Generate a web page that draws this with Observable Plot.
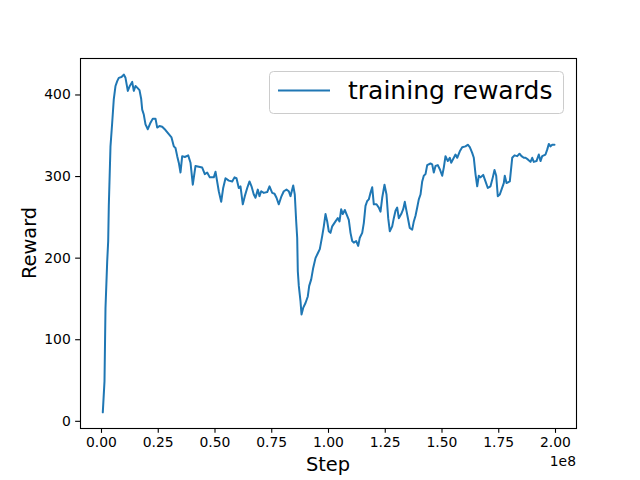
<!DOCTYPE html>
<html><head><meta charset="utf-8">
<script src="https://cdn.jsdelivr.net/npm/d3@7"></script>
<script src="https://cdn.jsdelivr.net/npm/@observablehq/plot@0.6"></script>
<style>body{margin:0;background:#fff} svg{font-family:"DejaVu Sans";}</style>
</head><body><div id="chart"></div>
<script>
// step in millions
const stepsM = [0.57,1.32,1.76,2.51,2.95,3.22,3.96,4.71,5.42,6.17,6.92,7.62,8.81,9.82,10.57,11.59,12.47,13.52,14.23,14.98,15.73,16.74,17.49,17.93,18.63,19.38,20.40,21.59,22.60,23.79,24.54,25.55,26.74,28.19,29.65,30.84,31.85,32.60,33.35,34.05,34.80,35.55,36.70,38.19,39.21,40.22,41.41,42.86,44.36,45.51,46.56,47.71,49.47,50.22,51.67,52.73,53.61,54.63,56.08,57.58,58.59,59.47,60.48,61.23,62.25,63.13,64.19,65.20,66.08,67.09,67.84,68.85,69.60,70.35,71.50,73.00,74.01,75.20,76.21,77.09,78.11,79.16,80.31,81.50,82.51,83.26,84.45,85.15,85.77,86.21,86.48,86.92,87.67,88.11,88.85,89.87,90.88,91.50,92.38,93.26,94.27,95.29,96.17,97.22,97.93,98.68,99.43,100.13,100.88,101.63,103.08,104.10,104.85,105.59,106.30,107.18,107.93,108.94,109.69,110.44,111.15,112.20,113.08,113.79,114.85,115.55,116.30,117.05,117.75,118.50,119.25,119.96,121.15,122.16,122.91,123.66,124.67,125.55,126.30,127.00,128.06,128.77,129.52,130.26,130.97,132.03,132.91,133.61,134.36,135.11,135.81,136.87,137.58,138.33,139.08,139.78,140.53,141.28,141.98,142.73,143.48,144.93,145.68,146.39,147.14,148.15,149.03,150.09,150.79,151.54,152.56,153.44,154.05,155.20,155.95,156.70,157.84,158.90,160.35,161.37,162.25,163.30,164.01,164.76,165.51,166.21,166.96,168.15,169.16,170.18,171.37,172.38,173.13,173.88,174.58,175.46,176.21,177.22,177.66,178.41,179.87,180.93,181.94,183.13,184.14,185.02,186.04,186.78,187.80,188.99,189.74,190.44,191.63,192.64,193.39,194.14,195.59,196.34,197.05,197.80,198.55,199.56];
const rewards = [11,49,139,196,221,264,337,366,395,411,417,421,422,425,421,405,411,416,405,411,409,406,395,382,376,364,358,366,371,371,360,362,361,357,352,348,337,335,325,317,305,325,324,326,317,290,313,312,311,303,305,299,299,306,282,269,286,298,295,294,299,298,286,288,266,276,286,294,288,278,274,284,276,282,280,281,288,280,279,274,266,275,282,284,282,276,289,278,245,225,184,166,147,131,139,145,153,166,174,188,200,206,211,227,239,254,245,233,231,239,245,249,245,260,254,259,254,247,231,221,219,221,215,225,231,243,264,270,272,280,287,266,266,262,257,274,290,278,249,233,239,249,258,262,249,254,260,269,258,247,237,235,245,252,262,272,278,294,301,303,314,316,315,305,313,314,309,301,311,325,319,323,317,323,327,323,331,336,337,339,336,329,323,303,288,301,299,302,294,286,288,299,308,301,276,278,284,292,301,292,294,323,326,325,328,325,323,323,321,318,323,318,319,327,319,325,327,333,340,337,339,339];
const xTicks = [0, 0.25e8, 0.5e8, 0.75e8, 1.0e8, 1.25e8, 1.5e8, 1.75e8, 2.0e8];
const yTicks = [0, 100, 200, 300, 400];
const seriesName = "training rewards";
const xLabel = "Step", yLabel = "Reward", xOffsetText = "1e8";

const data = stepsM.map((s, i) => ({step: s * 1e6, reward: rewards[i]}));
const fmtX = d => (d / 1e8).toFixed(2);

const plot = Plot.plot({
  width: 640, height: 480,
  marginLeft: 80, marginRight: 64, marginTop: 58, marginBottom: 52,
  style: {fontFamily: "DejaVu Sans", fontSize: "13.9px", background: "white", color: "black", overflow: "visible"},
  x: {domain: [-0.0925e8, 2.0925e8]},
  y: {domain: [-8.8, 444.7]},
  marks: [
    Plot.axisX({ticks: xTicks, tickFormat: fmtX, tickSize: 4.86, tickPadding: 3.5, strokeWidth: 1.1, label: null, fontSize: 13.9}),
    Plot.axisY({ticks: yTicks, tickSize: 4.86, tickPadding: 4.86, strokeWidth: 1.1, label: null, fontSize: 13.9}),
    Plot.line(data, {x: "step", y: "reward", stroke: "#1f77b4", strokeWidth: 2}),
    Plot.frame({stroke: "black", strokeWidth: 1.1})
  ]
});
document.getElementById("chart").appendChild(plot);

const svg = d3.select(plot);
svg.append("text").attr("x", 328).attr("y", 471).attr("text-anchor", "middle")
  .attr("font-size", 19.4).attr("fill", "black").text(xLabel);
svg.append("text").attr("transform", "translate(36,243) rotate(-90)").attr("text-anchor", "middle")
  .attr("font-size", 19.4).attr("fill", "black").text(yLabel);
svg.append("text").attr("x", 576).attr("y", 466).attr("text-anchor", "end")
  .attr("font-size", 13.9).attr("fill", "black").text(xOffsetText);

const lg = svg.append("g");
lg.append("rect").attr("x", 269.5).attr("y", 71.5).attr("width", 294).attr("height", 42).attr("rx", 4)
  .attr("fill", "white").attr("fill-opacity", 0.8).attr("stroke", "#cccccc").attr("stroke-width", 1);
lg.append("line").attr("x1", 278).attr("x2", 330).attr("y1", 90.5).attr("y2", 90.5)
  .attr("stroke", "#1f77b4").attr("stroke-width", 2);
lg.append("text").attr("x", 348).attr("y", 99).attr("text-anchor", "start")
  .attr("font-size", 25).attr("fill", "black").text(seriesName);
</script></body></html>
